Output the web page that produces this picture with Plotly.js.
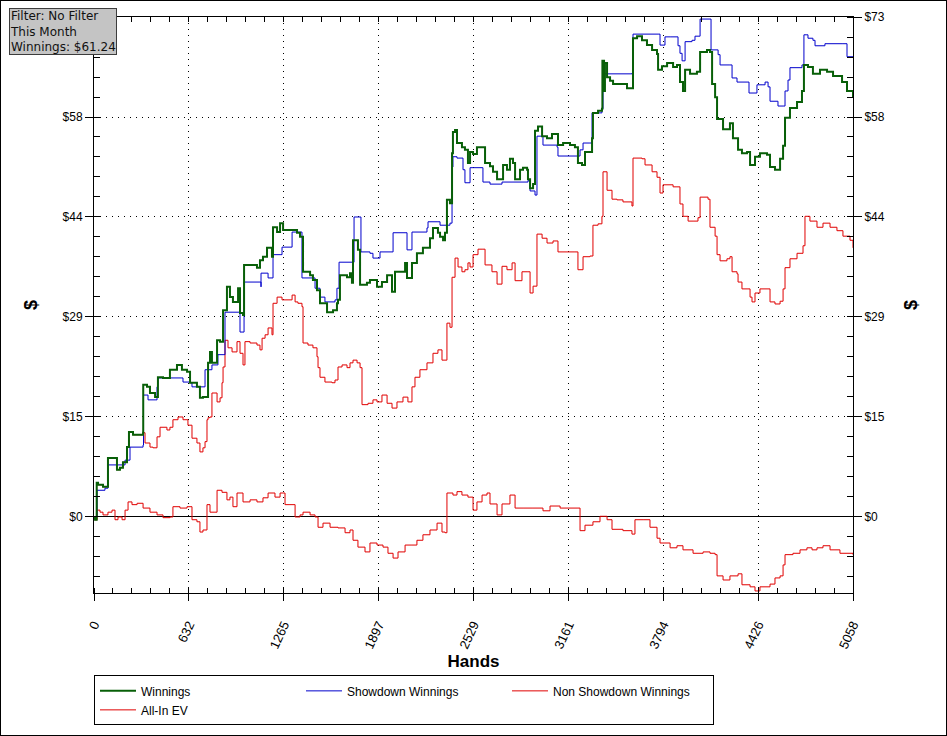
<!DOCTYPE html>
<html>
<head>
<meta charset="utf-8">
<script src="https://cdn.plot.ly/plotly-3.0.1.min.js"></script>
<style>
  html, body { margin: 0; padding: 0; background: #fff; }
  #wrap { position: relative; width: 947px; height: 736px; }
  #chart { width: 947px; height: 736px; }
  #frame { position: absolute; left: 0; top: 0; width: 945px; height: 734px; border: 1px solid #000; pointer-events: none; }
</style>
</head>
<body>
<div id="wrap"><div id="chart"></div><div id="frame"></div></div>
<script>
// ---- Data (hands, dollars) ----
const xTickVals = [0, 632.25, 1264.5, 1896.75, 2529, 3161.25, 3793.5, 4425.75, 5058];
const xTickText = ['0', '632', '1265', '1897', '2529', '3161', '3794', '4426', '5058'];
const yTickVals = [0, 14.6, 29.2, 43.8, 58.4, 73];
const yTickText = ['$0', '$15', '$29', '$44', '$58', '$73'];

const winHands = [0,7,18,27,60,87,93,120,153,173,193,220,233,260,307,327,328,353,373,407,426,460,506,553,586,620,640,686,706,726,760,773,786,806,820,840,860,886,906,926,960,973,993,1000,1040,1086,1106,1126,1153,1186,1193,1220,1240,1260,1306,1353,1373,1393,1440,1459,1486,1506,1553,1593,1619,1626,1639,1686,1706,1719,1726,1759,1773,1819,1839,1886,1919,1953,1986,2006,2073,2086,2119,2152,2192,2239,2259,2292,2306,2326,2339,2352,2372,2386,2392,2406,2419,2452,2472,2492,2506,2526,2552,2586,2606,2639,2659,2686,2726,2752,2772,2792,2806,2839,2859,2886,2892,2906,2926,2939,2959,2986,3019,3052,3072,3092,3126,3172,3205,3225,3252,3272,3305,3319,3325,3359,3385,3388,3399,3405,3419,3439,3459,3505,3552,3585,3592,3619,3652,3685,3719,3752,3759,3785,3819,3859,3885,3905,3925,3939,3972,4018,4039,4085,4105,4119,4139,4152,4172,4192,4238,4258,4292,4318,4352,4372,4405,4438,4485,4505,4538,4572,4592,4605,4638,4685,4718,4731,4758,4791,4838,4885,4925,4985,5018,5058];
const winVals = [-0.1,-0.4,5.0,4.7,4.4,4.4,8.6,8.6,6.9,7.2,8.0,10.2,12.4,12.0,12.0,12.3,19.3,19.0,18.1,17.5,20.4,20.3,21.5,22.2,21.5,21.2,19.6,19.0,17.4,17.5,22.5,24.1,22.5,22.5,25.8,25.6,30.2,33.6,32.1,31.4,33.4,29.8,29.5,36.8,36.8,36.4,37.5,38.0,39.3,38.0,42.3,41.6,42.9,41.9,41.9,41.5,40.9,35.8,35.3,34.6,33.1,31.2,29.9,30.2,31.2,31.7,35.3,35.0,35.6,34.2,40.4,39.0,33.9,34.2,34.6,33.6,34.3,35.3,32.9,35.8,37.1,34.9,37.1,38.5,39.3,40.7,42.2,41.5,40.9,40.4,41.5,46.3,45.8,53.1,56.2,56.5,54.6,54.0,53.6,51.7,53.3,53.0,54.0,54.0,51.7,51.2,50.4,49.3,51.4,50.7,52.3,51.7,49.3,50.7,51.0,50.7,49.3,48.0,48.6,56.4,57.0,55.6,55.3,55.9,55.9,54.3,54.6,54.3,54.0,51.7,51.4,53.3,53.3,55.3,59.0,59.3,59.6,66.6,62.2,66.3,64.2,63.7,63.2,63.2,62.6,62.6,69.9,70.2,69.6,68.9,68.2,67.6,65.3,65.8,66.3,65.7,66.0,63.5,62.2,65.3,64.7,65.0,67.9,68.2,67.9,63.2,61.3,58.1,58.1,56.6,57.5,55.3,53.6,53.1,53.3,51.4,52.6,53.1,52.9,51.1,50.7,52.3,54.2,58.3,59.7,60.6,62.2,66.0,65.7,64.7,65.3,65.0,64.4,63.5,62.2,61.24];

const sdHands = [0,7,20,60,73,93,207,207,240,240,327,330,353,360,407,420,426,586,593,640,653,740,740,760,786,820,826,860,873,960,973,1000,1000,1106,1113,1113,1153,1160,1193,1193,1240,1253,1313,1320,1373,1386,1459,1473,1506,1539,1606,1619,1633,1726,1733,1773,1779,1839,1859,1893,1906,1986,1993,2079,2086,2106,2119,2219,2226,2292,2306,2372,2386,2392,2419,2459,2472,2492,2506,2586,2592,2639,2706,2719,2892,2906,2939,2952,2986,2992,3086,3092,3225,3239,3259,3305,3319,3385,3392,3585,3592,3759,3772,3792,3805,3839,3892,3905,3919,3939,3985,4005,4032,4039,4105,4112,4159,4172,4238,4252,4285,4358,4365,4405,4418,4458,4472,4492,4505,4552,4558,4592,4605,4625,4638,4718,4731,4751,4758,4791,4805,4858,4871,4985,5018,5058];
const sdVals = [0,0,3.9,3.9,4.2,7.6,7.6,8.3,8.3,10.2,10.5,17.8,17.8,17.1,17.1,19.0,20.3,20.3,19.7,19.6,19.0,19.3,21.5,21.5,22.2,22.2,23.7,23.7,29.9,29.9,27.0,27.0,34.3,34.3,33.6,35.6,35.6,34.9,34.9,38.3,38.3,39.4,39.4,41.6,41.6,34.9,34.9,33.4,32.1,31.4,31.7,33.4,37.2,37.2,43.8,43.8,38.7,38.5,37.8,37.8,38.7,38.7,41.5,41.5,39.0,39.0,41.6,42.2,43.1,43.1,42.6,42.9,51.1,52.6,52.4,50.7,48.8,48.8,51.0,51.0,48.9,48.6,48.6,48.9,49.1,47.6,47.0,55.6,55.6,54.3,54.0,52.7,52.7,53.6,54.6,54.6,59.0,59.6,64.7,64.8,70.5,70.5,68.9,68.9,70.1,70.1,68.8,67.7,66.6,69.4,69.6,70.2,70.2,72.7,72.7,68.2,67.5,66.0,66.0,64.1,63.5,63.5,61.9,61.9,63.1,63.1,63.5,62.8,60.7,60.7,60.0,60.0,62.2,63.8,65.6,66.0,70.4,70.4,69.9,69.6,68.8,68.8,69.1,69.1,67.2,67.2];

const nsdHands = [0,7,20,40,60,93,120,140,160,187,207,227,253,287,327,373,420,460,506,526,573,620,640,653,686,706,726,753,773,806,820,853,886,906,926,953,993,1040,1086,1126,1160,1206,1240,1273,1306,1340,1373,1393,1440,1473,1493,1526,1573,1626,1673,1706,1726,1759,1806,1839,1886,1926,1959,1993,2026,2073,2119,2152,2192,2239,2286,2319,2339,2352,2392,2419,2452,2492,2526,2552,2586,2619,2639,2686,2719,2772,2806,2859,2919,2992,3039,3106,3219,3239,3272,3325,3372,3419,3452,3525,3585,3605,3659,3705,3752,3772,3839,3885,3925,3992,4059,4105,4139,4152,4192,4238,4292,4318,4372,4405,4438,4505,4538,4572,4592,4605,4658,4705,4751,4785,4818,4858,4905,4971,5018,5058];
const nsdVals = [0,-0.4,1.0,0.7,0.3,0.7,1.0,-0.4,0,-0.4,1.0,2.2,1.8,2.0,1.3,0.7,0.3,-0.1,0,1.5,1.3,1.5,1.5,-0.4,-0.7,-2.2,-1.9,1.8,0.7,0.7,3.9,3.6,2.5,2.9,1.5,3.5,2.2,2.5,2.2,2.8,3.5,2.9,3.5,1.8,1.8,0,0.3,0.7,0.3,0,-1.5,-0.9,-1.5,-1.6,-2.3,-1.9,-3.4,-4.4,-5.1,-3.8,-4.1,-4.4,-5.3,-6.0,-5.1,-4.1,-4.1,-3.4,-2.6,-1.9,-0.9,-2.2,-2.3,3.5,3.2,3.7,3.2,2.9,1.0,2.2,3.2,3.5,1.9,0.3,1.9,3.2,1.3,1.3,1.3,0.9,1.6,1.3,1.3,-2.0,-1.2,-0.7,0.1,-0.4,-1.8,-2.0,-2.5,-0.4,-0.4,-1.5,-3.1,-3.8,-4.5,-4.2,-4.8,-5.3,-5.1,-5.3,-5.5,-8.6,-9.2,-8.6,-8.3,-9.9,-10.2,-10.8,-10.2,-9.8,-8.9,-8.6,-7.0,-5.5,-5.3,-4.8,-4.5,-4.8,-4.5,-4.2,-4.8,-5.3,-5.3,-5.5];

const evHands = [0,7,18,27,60,87,93,120,153,173,193,220,233,260,307,327,340,373,393,420,440,486,506,526,560,593,626,653,686,706,726,740,753,760,773,786,806,820,840,853,860,873,893,920,953,973,993,1006,1040,1086,1106,1120,1140,1160,1186,1193,1220,1253,1293,1320,1340,1359,1386,1393,1426,1459,1486,1493,1506,1539,1586,1606,1626,1653,1686,1706,1726,1753,1773,1786,1826,1859,1886,1919,1953,1986,2019,2059,2092,2119,2139,2172,2219,2259,2292,2319,2339,2352,2372,2386,2406,2426,2452,2472,2492,2506,2526,2559,2586,2606,2652,2686,2719,2752,2786,2806,2852,2886,2906,2926,2952,2986,3019,3059,3092,3152,3205,3225,3259,3305,3325,3359,3385,3392,3419,3452,3485,3525,3585,3592,3652,3672,3719,3752,3772,3792,3859,3885,3905,3925,3959,3992,4025,4039,4092,4105,4139,4152,4172,4218,4238,4252,4285,4292,4318,4352,4372,4385,4405,4438,4485,4505,4538,4572,4592,4605,4638,4685,4725,4738,4771,4818,4858,4905,4951,4991,5038,5058];
const evVals = [-0.1,-0.4,5.0,4.7,4.4,4.4,8.6,8.6,6.9,7.2,8.0,10.2,12.4,12.0,12.0,12.3,10.8,10.2,10.1,11.7,13.1,12.7,13.1,14.2,14.6,14.2,13.4,11.5,10.8,9.5,10.1,11.0,14.2,14.5,14.6,18.1,18.1,16.8,17.4,19.6,21.9,25.8,24.7,24.1,25.6,23.9,22.2,25.6,25.4,25.1,24.4,26.1,26.6,27.6,26.6,31.2,32.1,31.7,31.7,32.4,31.4,31.2,30.7,25.4,25.1,24.7,23.4,21.8,20.4,19.7,19.6,20.0,21.9,22.2,21.8,22.5,22.9,22.5,21.8,16.4,16.6,17.1,16.8,17.8,16.6,15.9,16.8,17.5,16.8,19.0,20.4,21.5,22.5,23.9,24.4,22.9,22.9,28.3,27.7,35.0,37.8,36.5,35.8,36.1,37.1,36.5,38.3,39.1,39.1,36.8,35.8,34.0,36.6,36.1,37.1,34.5,35.8,35.8,32.7,33.7,41.3,40.7,40.0,40.3,38.7,38.7,38.7,36.1,38.0,38.1,42.6,42.8,43.9,50.4,47.7,46.4,46.3,46.0,45.4,52.4,52.3,51.4,50.4,49.6,47.3,48.5,48.2,48.2,45.7,43.9,43.2,43.2,43.7,46.7,46.4,42.3,41.0,38.3,37.4,37.7,38.0,35.8,35.5,34.3,33.3,33.3,32.1,31.4,32.7,33.3,33.3,31.4,31.1,31.5,33.3,36.4,37.7,38.5,39.6,43.9,43.2,42.3,42.9,42.3,41.8,41.0,40.4,39.3];

const seriesNames = ['Winnings', 'Showdown Winnings', 'Non Showdown Winnings', 'All-In EV'];

const GREEN = '#085f08', BLUE = '#0000cc', RED = '#e00000';
const FONT = 'Liberation Sans, Arial, sans-serif';

// left $73 label is hidden behind the filter box in the reference
const yTickTextLeft = yTickText.map((t, i) => (i === yTickText.length - 1 ? '' : t));

const traces = [
  { x: evHands, y: evVals, name: seriesNames[3], type: 'scatter', mode: 'lines',
    line: { color: RED, width: 1, shape: 'hv' }, legendrank: 4 },
  { x: nsdHands, y: nsdVals, name: seriesNames[2], type: 'scatter', mode: 'lines',
    line: { color: RED, width: 1, shape: 'hv' }, legendrank: 3 },
  { x: sdHands, y: sdVals, name: seriesNames[1], type: 'scatter', mode: 'lines',
    line: { color: BLUE, width: 1, shape: 'hv' }, legendrank: 2 },
  { x: winHands, y: winVals, name: seriesNames[0], type: 'scatter', mode: 'lines',
    line: { color: GREEN, width: 2, shape: 'hv' }, legendrank: 1 },
  { x: [], y: [], xaxis: 'x2', yaxis: 'y2', showlegend: false, hoverinfo: 'skip', type: 'scatter', mode: 'lines' }
];

const xRange = [0, 5058];
const yRange = [-11.1, 73];

const layout = {
  width: 947, height: 736,
  margin: { l: 94, r: 94, t: 17, b: 143, autoexpand: false },
  paper_bgcolor: '#ffffff', plot_bgcolor: '#ffffff',
  font: { family: FONT, size: 12, color: '#000' },
  showlegend: true,
  xaxis: {
    range: xRange, tickmode: 'array', tickvals: xTickVals, ticktext: xTickText,
    tickangle: -65, ticks: 'outside', ticklen: 7, tickcolor: '#000', tickwidth: 1,
    ticklabelstandoff: 11, automargin: false,
    showline: true, linecolor: '#000', linewidth: 1,
    showgrid: true, gridcolor: '#000', gridwidth: 1, griddash: '1px,5px',
    zeroline: false,
    minor: { tickmode: 'linear', tick0: 0, dtick: 632.25 / 5, ticks: 'inside', ticklen: 5, tickcolor: '#000', showgrid: false },
    tickfont: { family: FONT, size: 13, color: '#000' },
    title: { text: '<b>Hands</b>', font: { family: FONT, size: 17, color: '#000' }, standoff: 4 }
  },
  xaxis2: {
    overlaying: 'x', side: 'top', anchor: 'y', range: xRange, automargin: false,
    tickmode: 'array', tickvals: xTickVals, showticklabels: false,
    ticks: 'inside', ticklen: 5, tickcolor: '#000',
    showline: true, linecolor: '#000', linewidth: 1, showgrid: false, zeroline: false,
    minor: { tickmode: 'linear', tick0: 0, dtick: 632.25 / 5, ticks: 'inside', ticklen: 5, tickcolor: '#000', showgrid: false }
  },
  yaxis: {
    range: yRange, tickmode: 'array', tickvals: yTickVals, ticktext: yTickTextLeft,
    ticks: 'outside', ticklen: 8, tickcolor: '#000', tickwidth: 1, automargin: false,
    showline: true, linecolor: '#000', linewidth: 1,
    showgrid: true, gridcolor: '#000', gridwidth: 1, griddash: '1px,5px',
    zeroline: true, zerolinecolor: '#000', zerolinewidth: 1,
    minor: { tickmode: 'linear', tick0: 0, dtick: 2.92, ticks: 'inside', ticklen: 6, tickcolor: '#000', showgrid: false },
    tickfont: { family: FONT, size: 12, color: '#000' },
    title: { text: '<b>$</b>', font: { family: FONT, size: 18, color: '#000' }, standoff: 20 }
  },
  yaxis2: {
    overlaying: 'y', side: 'right', anchor: 'x', range: yRange, automargin: false,
    tickmode: 'array', tickvals: yTickVals, ticktext: yTickText,
    ticks: 'outside', ticklen: 8, tickcolor: '#000',
    showline: true, linecolor: '#000', linewidth: 1, showgrid: false, zeroline: false,
    minor: { tickmode: 'linear', tick0: 0, dtick: 2.92, ticks: 'inside', ticklen: 6, tickcolor: '#000', showgrid: false },
    tickfont: { family: FONT, size: 12, color: '#000' },
    title: { text: '<b>$</b>', font: { family: FONT, size: 18, color: '#000' }, standoff: 20 }
  },
  legend: {
    orientation: 'h', x: 0, xanchor: 'left', y: -0.143, yanchor: 'top',
    bgcolor: '#ffffff', bordercolor: '#000', borderwidth: 1,
    font: { family: FONT, size: 12, color: '#000' },
    entrywidth: 155, entrywidthmode: 'pixels', itemwidth: 36, traceorder: 'normal'
  },
  annotations: [{
    xref: 'paper', yref: 'paper', x: -0.112, y: 1.0156, xanchor: 'left', yanchor: 'top',
    showarrow: false, align: 'left',
    text: 'Filter: No Filter<br>This Month<br>Winnings: $61.24',
    font: { family: 'DejaVu Sans, Verdana, sans-serif', size: 12, color: '#111' },
    bgcolor: '#c4c4c4', bordercolor: '#3c3c3c', borderwidth: 1, borderpad: 0
  }]
};

Plotly.newPlot('chart', traces, layout, { displayModeBar: false, staticPlot: true });
</script>
</body>
</html>
